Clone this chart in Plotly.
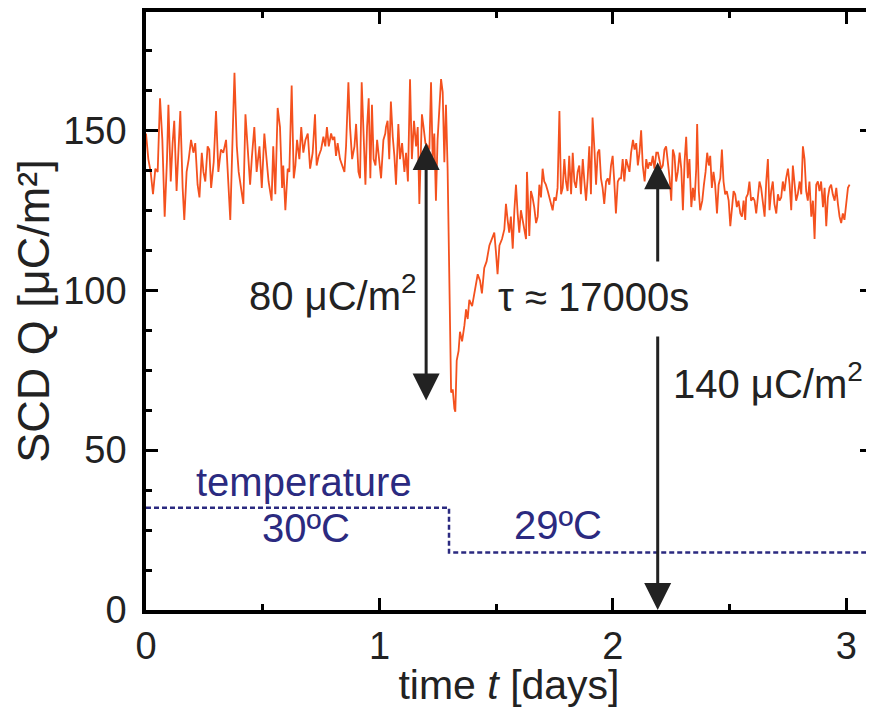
import plotly.graph_objects as go

# =========================
# Data
# =========================
# SCD Q [uC/m^2] versus time [days], split into stretches of the trace
t_early = [0.000, 0.010, 0.020, 0.030, 0.040, 0.050, 0.060, 0.070, 0.080, 0.090,
           0.096, 0.106, 0.114, 0.121, 0.131, 0.143, 0.147, 0.157, 0.164, 0.174,
           0.183, 0.193, 0.203, 0.211, 0.221, 0.229, 0.239, 0.246, 0.254, 0.264,
           0.271, 0.279, 0.290, 0.300, 0.310, 0.321, 0.331, 0.343, 0.353, 0.361,
           0.371, 0.379, 0.389, 0.397, 0.407, 0.417, 0.426, 0.436, 0.446, 0.454,
           0.464, 0.474, 0.486, 0.496, 0.507]
q_early = [149, 141, 137, 130, 138, 137, 160, 147, 123, 141,
           158, 134, 146, 153, 131, 148, 156, 132, 122, 137,
           141, 147, 143, 146, 133, 129, 143, 137, 134, 145,
           144, 132, 140, 156, 137, 144, 143, 147, 132, 122,
           148, 168, 145, 137, 132, 127, 155, 142, 133, 142,
           151, 137, 145, 132, 149]

t_mid = [0.514, 0.525, 0.538, 0.545, 0.554, 0.564, 0.574, 0.583, 0.588, 0.597,
         0.607, 0.614, 0.624, 0.633, 0.640, 0.647, 0.657, 0.665, 0.674, 0.683,
         0.693, 0.703, 0.714, 0.724, 0.731, 0.740, 0.750, 0.760, 0.768, 0.775,
         0.783, 0.793, 0.800, 0.807, 0.814, 0.821, 0.831, 0.840, 0.850, 0.857,
         0.867, 0.874, 0.883, 0.893, 0.900, 0.910, 0.917, 0.924, 0.933, 0.940,
         0.947, 0.954, 0.961, 0.968, 0.975, 0.983, 0.990, 0.997, 1.007, 1.017,
         1.025]
q_mid = [143, 134, 128, 145, 130, 157, 151, 132, 139, 125,
         138, 137, 164, 135, 139, 147, 141, 151, 143, 147,
         149, 138, 143, 155, 139, 142, 144, 148, 145, 151,
         145, 149, 147, 148, 142, 146, 141, 139, 137, 145,
         165, 151, 141, 145, 152, 137, 135, 165, 145, 133,
         151, 160, 135, 158, 141, 139, 147, 141, 135, 147,
         149]

t_predrop = [1.028, 1.035, 1.042, 1.049, 1.057, 1.064, 1.071, 1.081, 1.088, 1.097,
             1.107, 1.114, 1.122, 1.131, 1.139, 1.148, 1.157, 1.164, 1.171, 1.177,
             1.182, 1.189, 1.197, 1.207, 1.214, 1.221, 1.228, 1.235, 1.242, 1.249,
             1.257, 1.264, 1.271, 1.278, 1.285, 1.292]
q_predrop = [151, 153, 141, 159, 148, 142, 133, 152, 141, 146,
             137, 143, 134, 166, 141, 153, 145, 151, 127, 146,
             155, 151, 146, 145, 144, 165, 141, 149, 128, 147,
             159, 166, 162, 140, 158, 138]

t_drop = [1.307, 1.314, 1.321, 1.325, 1.331, 1.339, 1.345, 1.354, 1.364, 1.371,
          1.378, 1.385, 1.397, 1.407, 1.414, 1.421, 1.431, 1.439, 1.449, 1.459,
          1.471, 1.482, 1.492, 1.499, 1.506, 1.514, 1.525, 1.535]
q_drop = [68, 69, 63, 62, 78, 81, 87, 84, 89, 94,
          91, 97, 95, 99, 101, 105, 103, 99, 107, 109,
          114, 116, 118, 112, 105, 114, 116, 119]

t_recov = [1.542, 1.549, 1.556, 1.563, 1.571, 1.578, 1.585, 1.592, 1.599, 1.606,
           1.613, 1.621, 1.628, 1.632, 1.642, 1.649, 1.656, 1.663, 1.671, 1.678,
           1.685, 1.692, 1.699, 1.706, 1.713, 1.721, 1.728, 1.735, 1.742, 1.749,
           1.756, 1.763, 1.771, 1.778, 1.785, 1.792, 1.799, 1.806, 1.813, 1.821,
           1.828, 1.835, 1.842, 1.849, 1.856, 1.863, 1.871, 1.878, 1.885, 1.892,
           1.899, 1.906, 1.913, 1.921, 1.928, 1.935, 1.942, 1.949, 1.956, 1.963,
           1.971, 1.978, 1.985, 1.992, 1.999, 2.006, 2.013, 2.021, 2.028, 2.035,
           2.042, 2.049]
q_recov = [127, 122, 118, 123, 113, 125, 133, 124, 118, 125,
           122, 118, 116, 137, 117, 131, 129, 126, 121, 123,
           133, 129, 138, 134, 133, 131, 129, 127, 125, 129,
           128, 132, 156, 130, 132, 141, 134, 131, 142, 130,
           143, 134, 132, 137, 139, 130, 141, 134, 128, 135,
           145, 130, 154, 144, 133, 143, 144, 135, 132, 127,
           134, 135, 133, 139, 142, 134, 124, 134, 135, 135,
           141, 134]

t_plateau = [2.057, 2.064, 2.071, 2.078, 2.086, 2.093, 2.100, 2.107, 2.114, 2.121,
             2.128, 2.136, 2.143, 2.150, 2.157, 2.164, 2.171, 2.178, 2.186, 2.193,
             2.200, 2.207, 2.214, 2.221, 2.228, 2.236, 2.243, 2.250, 2.257, 2.264,
             2.271, 2.278, 2.286, 2.293, 2.300, 2.307, 2.314, 2.321, 2.328, 2.336,
             2.343, 2.350, 2.357, 2.361, 2.368, 2.374, 2.383, 2.390, 2.397, 2.404,
             2.411, 2.417, 2.424, 2.431, 2.438, 2.446, 2.453, 2.460, 2.467, 2.474,
             2.481, 2.488, 2.496, 2.503, 2.510, 2.517, 2.524, 2.531, 2.538, 2.546,
             2.553, 2.560, 2.567]
q_plateau = [141, 139, 137, 143, 147, 144, 146, 139, 143, 150,
             139, 134, 141, 138, 140, 139, 142, 138, 143, 143,
             140, 138, 139, 144, 145, 140, 135, 128, 144, 142,
             134, 137, 143, 138, 125, 140, 148, 135, 141, 126,
             132, 128, 138, 152, 131, 125, 128, 133, 137, 143,
             139, 142, 132, 137, 133, 124, 133, 135, 144, 134,
             130, 131, 128, 120, 126, 131, 130, 126, 128, 124,
             123, 128, 122]

t_late = [2.571, 2.578, 2.585, 2.592, 2.600, 2.607, 2.614, 2.621, 2.628, 2.635,
          2.642, 2.650, 2.657, 2.664, 2.671, 2.678, 2.685, 2.692, 2.700, 2.707,
          2.714, 2.721, 2.728, 2.735, 2.742, 2.750, 2.757, 2.764, 2.771, 2.778,
          2.785, 2.792, 2.800, 2.807, 2.814, 2.821, 2.828, 2.835, 2.842, 2.850,
          2.857, 2.864, 2.871, 2.878, 2.885, 2.892, 2.900, 2.907, 2.914, 2.921,
          2.928, 2.935, 2.942, 2.950, 2.957, 2.964, 2.971, 2.978, 2.985, 2.992,
          3.000, 3.007, 3.014]
q_late = [129, 130, 134, 128, 129, 128, 124, 129, 134, 132,
          127, 123, 134, 141, 125, 131, 134, 127, 124, 130,
          128, 129, 134, 131, 135, 138, 133, 125, 139, 133,
          128, 130, 134, 130, 145, 141, 131, 128, 134, 123,
          128, 116, 133, 134, 131, 134, 126, 132, 120, 129,
          132, 133, 130, 128, 132, 127, 123, 121, 124, 122,
          128, 132, 133]

# temperature step (drawn on the Q scale)
t_temp = [0.0, 1.298, 1.298, 3.11]
q_temp = [32, 32, 18, 18]

t_all = t_early + t_mid + t_predrop + t_drop + t_recov + t_plateau + t_late
q_all = q_early + q_mid + q_predrop + q_drop + q_recov + q_plateau + q_late

FONT = "Liberation Sans"
NAVY = "#2b2a80"
INK = "#222222"

# =========================
# Figure
# =========================
fig = go.Figure()
fig.add_trace(go.Scatter(
    x=t_all, y=q_all, mode="lines",
    line=dict(color="#f4511e", width=1.8), hoverinfo="skip"
))
fig.add_trace(go.Scatter(
    x=t_temp, y=q_temp, mode="lines",
    line=dict(color=NAVY, width=2.5, dash="5px,3px"), hoverinfo="skip"
))

# arrows
arrows = [
    dict(x=1.2, y=65.5, ax=1.2, ay=146.5, arrowside="end+start"),
    dict(x=2.192, y=140, ax=2.192, ay=108.5, arrowside="end"),
    dict(x=2.192, y=0, ax=2.192, ay=86, arrowside="end"),
]
for a in arrows:
    fig.add_annotation(
        x=a["x"], y=a["y"], ax=a["ax"], ay=a["ay"], xref="x", yref="y",
        axref="x", ayref="y", text="", showarrow=True, arrowside=a["arrowside"],
        arrowhead=2, arrowsize=1.8, arrowwidth=3, arrowcolor=INK, standoff=0,
        startstandoff=0, startarrowhead=2, startarrowsize=1.8
    )

labels = [
    (0.80, 99, "80 μC/m<sup>2</sup>", INK),
    (1.915, 98, "τ ≈ 17000s", INK),
    (2.665, 71.5, "140 μC/m<sup>2</sup>", INK),
    (0.677, 40, "temperature", NAVY),
    (0.687, 25.5, "30ºC", NAVY),
    (1.766, 26.5, "29ºC", NAVY),
]
for x, y, txt, col in labels:
    fig.add_annotation(x=x, y=y, text=txt, showarrow=False,
                       font=dict(family=FONT, size=40, color=col))

axis_common = dict(
    showline=True, linewidth=3.5, linecolor="black", mirror="ticks",
    ticks="inside", ticklen=12, tickwidth=3, tickcolor="black",
    showgrid=False, zeroline=False, automargin=False,
    tickfont=dict(family=FONT, size=38, color="#222"),
)
fig.update_xaxes(
    range=[0, 3.11], dtick=1, tick0=0,
    minor=dict(dtick=0.5, ticks="inside", ticklen=6, tickwidth=3, tickcolor="black"),
    title=dict(text="time <i>t</i> [days]", font=dict(family=FONT, size=41, color="#222"),
               standoff=8),
    **axis_common
)
fig.update_yaxes(
    range=[0, 187], dtick=50, tick0=0, ticklabelstandoff=8,
    minor=dict(dtick=12.5, ticks="inside", ticklen=6, tickwidth=3, tickcolor="black"),
    title=dict(text="SCD Q [μC/m²]", font=dict(family=FONT, size=45, color="#222"),
               standoff=6),
    **axis_common
)
# page body keeps an 8px margin, so the figure is drawn 8px in from the corner
fig.update_layout(
    width=866, height=700,
    margin=dict(l=138, r=2, t=4, b=98),
    plot_bgcolor="white", paper_bgcolor="white",
    showlegend=False,
)

fig.write_html("out.html")
